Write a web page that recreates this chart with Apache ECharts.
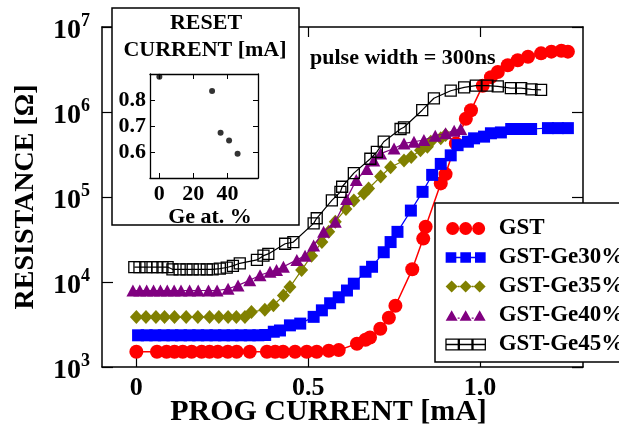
<!DOCTYPE html>
<html><head><meta charset="utf-8">
<script src="https://cdn.jsdelivr.net/npm/echarts@6/dist/echarts.min.js"></script>
<style>html,body{margin:0;padding:0;background:#fff}#c{width:619px;height:430px}</style>
</head><body><div id="c"></div>
<script>
// ---------------- DATA ----------------
const seriesNames = ['GST', 'GST-Ge30%', 'GST-Ge35%', 'GST-Ge40%', 'GST-Ge45%'];

const gstI = [0, 0.06, 0.088, 0.111, 0.135, 0.161, 0.19, 0.213, 0.237, 0.266, 0.292, 0.33, 0.38, 0.404, 0.427, 0.462, 0.496, 0.525, 0.56, 0.589, 0.642, 0.667, 0.68, 0.71, 0.735, 0.754, 0.803, 0.835, 0.842, 0.886, 0.90, 0.93, 0.959, 0.974, 1.008, 1.032, 1.052, 1.081, 1.11, 1.14, 1.178, 1.208, 1.237, 1.256];
const gstR = [1510, 1510, 1510, 1510, 1510, 1510, 1510, 1510, 1510, 1510, 1510, 1510, 1510, 1510, 1510, 1510, 1510, 1510, 1550, 1580, 1880, 2090, 2220, 2820, 3800, 5250, 14100, 32400, 44700, 144500, 186000, 427000, 832000, 1047000, 2040000, 2570000, 2950000, 3550000, 4070000, 4470000, 4900000, 5130000, 5250000, 5130000];

const ge30I = [0.005, 0.03, 0.055, 0.08, 0.105, 0.13, 0.155, 0.18, 0.205, 0.23, 0.255, 0.28, 0.305, 0.33, 0.355, 0.375, 0.40, 0.418, 0.447, 0.477, 0.516, 0.54, 0.564, 0.589, 0.613, 0.633, 0.667, 0.686, 0.72, 0.74, 0.76, 0.799, 0.833, 0.861, 0.886, 0.915, 0.935, 0.965, 0.983, 1.012, 1.032, 1.061, 1.091, 1.12, 1.149, 1.198, 1.227, 1.256];
const ge30R = [2360, 2360, 2360, 2360, 2360, 2360, 2360, 2360, 2360, 2360, 2360, 2360, 2360, 2360, 2360, 2380, 2600, 2690, 3090, 3240, 3890, 4640, 5620, 6610, 7940, 9550, 13200, 15100, 22400, 29500, 38900, 69200, 115000, 182000, 245000, 309000, 407000, 447000, 490000, 513000, 562000, 575000, 631000, 631000, 631000, 646000, 646000, 646000];

const ge35I = [0.0, 0.028, 0.057, 0.082, 0.111, 0.145, 0.179, 0.213, 0.24, 0.267, 0.291, 0.316, 0.335, 0.374, 0.399, 0.428, 0.447, 0.481, 0.51, 0.54, 0.56, 0.579, 0.61, 0.633, 0.662, 0.676, 0.711, 0.74, 0.779, 0.80, 0.827, 0.847, 0.857, 0.886, 0.90];
const ge35R = [3870, 3870, 3870, 3870, 3870, 3870, 3870, 3870, 3870, 3870, 3870, 3870, 4440, 4730, 5320, 6920, 8710, 13800, 20400, 29500, 38900, 51300, 72400, 91200, 110000, 126000, 174000, 224000, 269000, 295000, 355000, 389000, 447000, 490000, 537000];

const ge40I = [-0.01, 0.01, 0.03, 0.05, 0.07, 0.09, 0.11, 0.13, 0.155, 0.18, 0.21, 0.235, 0.267, 0.296, 0.33, 0.36, 0.389, 0.408, 0.428, 0.467, 0.491, 0.516, 0.545, 0.579, 0.612, 0.64, 0.671, 0.691, 0.711, 0.75, 0.779, 0.808, 0.837, 0.87, 0.90, 0.925, 0.944];
const ge40R = [7940, 7940, 7940, 7940, 7940, 7940, 7940, 7940, 7940, 7940, 7940, 7940, 8320, 9120, 10500, 12000, 13200, 13800, 15100, 18200, 20400, 26900, 38900, 51300, 95000, 158000, 214000, 269000, 324000, 372000, 427000, 447000, 468000, 525000, 562000, 603000, 631000];

const ge45I = [-0.006, 0.009, 0.029, 0.047, 0.061, 0.076, 0.091, 0.105, 0.126, 0.146, 0.164, 0.184, 0.205, 0.222, 0.243, 0.263, 0.281, 0.301, 0.351, 0.37, 0.384, 0.433, 0.457, 0.516, 0.525, 0.569, 0.594, 0.599, 0.633, 0.681, 0.70, 0.72, 0.769, 0.779, 0.832, 0.866, 0.915, 0.954, 0.988, 1.022, 1.052, 1.09, 1.12, 1.15, 1.178];
const ge45R = [15000, 15000, 15000, 15000, 15000, 15000, 15000, 14100, 14100, 14100, 14100, 14100, 14100, 14100, 14400, 14800, 15500, 16600, 18200, 20400, 21400, 28200, 29500, 49000, 56200, 91200, 115000, 132000, 191000, 282000, 339000, 447000, 631000, 661000, 1050000, 1450000, 1780000, 1950000, 2040000, 2040000, 2000000, 1910000, 1910000, 1850000, 1820000];

const xTickValues = [0, 0.5, 1.0];
const xTickLabels = ['0', '0.5', '1.0'];

const insetGe = [0, 31, 36, 41, 46];
const insetReset = [0.889, 0.835, 0.674, 0.644, 0.593];
const insetXTicks = [0, 20, 40];

const titleText = 'pulse width = 300ns';
const insetTitle = ['RESET', 'CURRENT [mA]'];

// ---------------- STYLE ----------------
const FF = '"Liberation Serif", "Times New Roman", serif';
const colors = ['#ff0000', '#0000ff', '#808000', '#800080', '#000000'];
const symbols = ['circle', 'rect', 'diamond', 'triangle', 'rect'];
const symbolSizes = [14, 12, [13, 14], [13, 12], 11];
const icons = [
  'path://M0,20a20,20 0 1,0 40,0a20,20 0 1,0 -40,0Z M40,20a20,20 0 1,0 40,0a20,20 0 1,0 -40,0Z M80,20a20,20 0 1,0 40,0a20,20 0 1,0 -40,0Z',
  'path://M0,4H32V36H0Z M44,4H76V36H44Z M88,4H120V36H88Z M32,18H44V22H32Z M76,18H88V22H76Z',
  'path://M0,20L18,2L36,20L18,38Z M42,20L60,2L78,20L60,38Z M84,20L102,2L120,20L102,38Z M36,18H42V22H36Z M78,18H84V22H78Z',
  'path://M0,36L18,4L36,36Z M42,36L60,4L78,36Z M84,36L102,4L120,36Z M36,26H42V30H36Z M78,26H84V30H78Z',
  'path://M1,4H38V36H1Z M41,4H79V36H41Z M82,4H119V36H82Z M0,20H120'
];

const xs = [gstI, ge30I, ge35I, ge40I, ge45I];
const ys = [gstR, ge30R, ge35R, ge40R, ge45R];

const series = seriesNames.map((name, k) => {
  const hollow = k === 4;
  return {
    name: name,
    type: 'line',
    xAxisIndex: 0, yAxisIndex: 0,
    data: xs[k].map((x, i) => [x, ys[k][i]]),
    symbol: symbols[k],
    symbolSize: symbolSizes[k],
    showAllSymbol: true,
    lineStyle: { color: colors[k], width: k === 0 ? 1.5 : 1.2 },
    itemStyle: hollow
      ? { color: 'rgba(255,255,255,0)', borderColor: '#000', borderWidth: 1.3 }
      : { color: colors[k], borderWidth: 0 },
    emphasis: { disabled: true },
    z: 2 + k
  };
});

series.push({
  type: 'scatter',
  xAxisIndex: 2, yAxisIndex: 2,
  data: insetGe.map((g, i) => [g, insetReset[i]]),
  symbol: 'circle', symbolSize: 6,
  itemStyle: { color: '#000' },
  z: 30, silent: true
});

const tickLabelStyle = { fontFamily: FF, fontWeight: 'bold', color: '#000' };

const option = {
  animation: false,
  backgroundColor: '#fff',
  grid: [
    { left: 102, right: 36, top: 27, bottom: 63, containLabel: false, outerBoundsMode: 'none' },
    { left: 150, top: 74, width: 108, height: 104, containLabel: false, outerBoundsMode: 'none', z: 20 }
  ],
  xAxis: [
    {
      type: 'value', gridIndex: 0, position: 'bottom', min: -0.1, max: 1.3,
      axisLine: { show: true, onZero: false, lineStyle: { color: '#000', width: 1.5 } },
      axisTick: { show: true, inside: true, length: 10, customValues: xTickValues, lineStyle: { color: '#000', width: 1.2 } },
      axisLabel: { show: true, customValues: xTickValues, margin: 8, fontSize: 26, ...tickLabelStyle,
        formatter: v => { const i = xTickValues.findIndex(t => Math.abs(t - v) < 1e-9); return i >= 0 ? xTickLabels[i] : ''; } },
      splitLine: { show: false },
      name: 'PROG CURRENT [mA]', nameLocation: 'middle', nameGap: 30, nameMoveOverlap: false,
      nameTextStyle: { fontFamily: FF, fontWeight: 'bold', fontSize: 30, color: '#000', padding: [0, 28, 0, 0] }
    },
    {
      type: 'value', gridIndex: 0, position: 'top', min: -0.1, max: 1.3,
      axisLine: { show: true, onZero: false, lineStyle: { color: '#000', width: 1.5 } },
      axisTick: { show: true, inside: true, length: 10, customValues: xTickValues, lineStyle: { color: '#000', width: 1.2 } },
      axisLabel: { show: false }, splitLine: { show: false }
    },
    {
      type: 'value', gridIndex: 1, position: 'bottom', min: -5.5, max: 58, z: 20,
      axisLine: { show: true, onZero: false, lineStyle: { color: '#000', width: 1.3 } },
      axisTick: { show: true, inside: true, length: 5, customValues: insetXTicks, lineStyle: { color: '#000', width: 1 } },
      axisLabel: { show: true, customValues: insetXTicks, margin: 5, fontSize: 22, ...tickLabelStyle },
      splitLine: { show: false },
      name: 'Ge at. %', nameLocation: 'middle', nameGap: 25,
      nameTextStyle: { fontFamily: FF, fontWeight: 'bold', fontSize: 22, color: '#000', padding: [0, 0, 0, 12] }
    },
    {
      type: 'value', gridIndex: 1, position: 'top', min: -5.5, max: 58, z: 20,
      axisLine: { show: true, onZero: false, lineStyle: { color: '#000', width: 1.3 } },
      axisTick: { show: true, inside: true, length: 5, customValues: insetXTicks, lineStyle: { color: '#000', width: 1 } },
      axisLabel: { show: false }, splitLine: { show: false }
    }
  ],
  yAxis: [
    {
      type: 'log', logBase: 10, gridIndex: 0, position: 'left', min: 1000, max: 10000000,
      axisLine: { show: true, onZero: false, lineStyle: { color: '#000', width: 1.5 } },
      axisTick: { show: true, inside: true, length: 11, lineStyle: { color: '#000', width: 1.2 } },
      minorTick: { show: false },
      axisLabel: {
        show: true, margin: 12,
        formatter: v => '{b|10}{s|' + Math.round(Math.log10(v)) + '}',
        rich: {
          b: { fontFamily: FF, fontWeight: 'bold', fontSize: 28, color: '#000', padding: [8, 0, 0, 0] },
          s: { fontFamily: FF, fontWeight: 'bold', fontSize: 18, color: '#000', padding: [0, 0, 12, 0] }
        }
      },
      splitLine: { show: false },
      name: 'RESISTANCE [Ω]', nameLocation: 'middle', nameGap: 62, nameRotate: 90,
      nameTextStyle: { fontFamily: FF, fontWeight: 'bold', fontSize: 28, color: '#000' }
    },
    {
      type: 'log', logBase: 10, gridIndex: 0, position: 'right', min: 1000, max: 10000000,
      axisLine: { show: true, onZero: false, lineStyle: { color: '#000', width: 1.5 } },
      axisTick: { show: true, inside: true, length: 11, lineStyle: { color: '#000', width: 1.2 } },
      axisLabel: { show: false }, splitLine: { show: false }
    },
    {
      type: 'value', gridIndex: 1, position: 'left', min: 0.5, max: 0.9, interval: 0.1, z: 20,
      axisLine: { show: true, onZero: false, lineStyle: { color: '#000', width: 1.3 } },
      axisTick: { show: true, inside: true, length: 5, lineStyle: { color: '#000', width: 1 } },
      axisLabel: { show: true, margin: 4, fontSize: 22, showMinLabel: false, showMaxLabel: false, ...tickLabelStyle,
        formatter: v => v.toFixed(1) },
      splitLine: { show: false }
    },
    {
      type: 'value', gridIndex: 1, position: 'right', min: 0.5, max: 0.9, interval: 0.1, z: 20,
      axisLine: { show: true, onZero: false, lineStyle: { color: '#000', width: 1.3 } },
      axisTick: { show: true, inside: true, length: 5, lineStyle: { color: '#000', width: 1 } },
      axisLabel: { show: false }, splitLine: { show: false }
    }
  ],
  legend: {
    show: true, orient: 'vertical', left: 435, top: 203,
    itemWidth: 40, itemHeight: 13, itemGap: 6,
    padding: [14, 10, 6, 10],
    backgroundColor: '#fff', borderColor: '#000', borderWidth: 1.5, borderRadius: 0,
    textStyle: { fontFamily: FF, fontWeight: 'bold', fontSize: 23, color: '#000', padding: [0, 0, 0, 8] },
    selectedMode: false, z: 40,
    data: seriesNames.map((n, k) => ({
      name: n, icon: icons[k],
      itemStyle: k === 4
        ? { color: 'rgba(255,255,255,0)', borderColor: '#000', borderWidth: 1.3 }
        : { color: colors[k], borderWidth: 0 }
    }))
  },
  graphic: [
    { type: 'rect', z: 10, shape: { x: 112, y: 8, width: 187, height: 217 },
      style: { fill: '#fff', stroke: '#000', lineWidth: 1.5 } },
    { type: 'text', z: 11, x: 206, y: 23,
      style: { text: insetTitle[0], font: 'bold 22px ' + FF, fill: '#000', align: 'center', verticalAlign: 'middle' } },
    { type: 'text', z: 11, x: 205, y: 50,
      style: { text: insetTitle[1], font: 'bold 22px ' + FF, fill: '#000', align: 'center', verticalAlign: 'middle' } },
    { type: 'text', z: 11, x: 310, y: 58,
      style: { text: titleText, font: 'bold 22px ' + FF, fill: '#000', align: 'left', verticalAlign: 'middle' } }
  ],
  series: series
};

const chart = echarts.init(document.getElementById('c'), null, { renderer: 'canvas' });
chart.setOption(option);
</script>
</body></html>
